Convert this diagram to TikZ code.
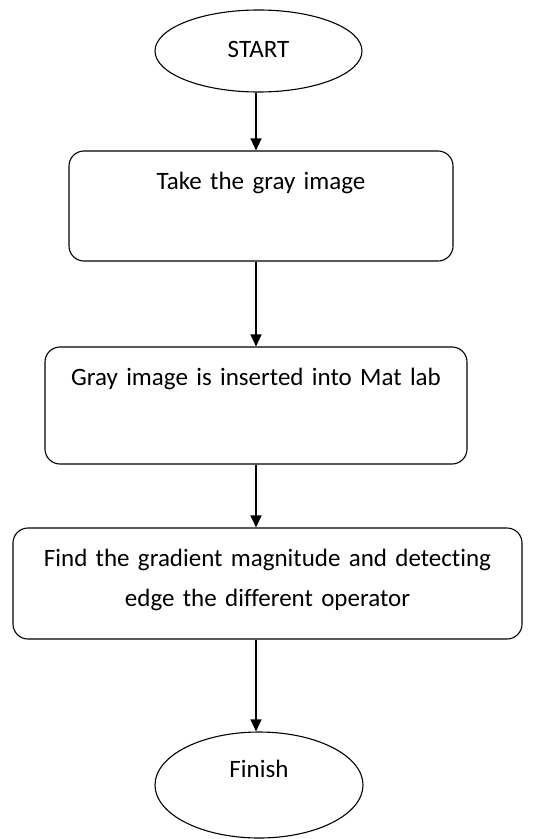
\documentclass[tikz,border=0pt]{standalone}
\usepackage{fontspec}
\setmainfont{Carlito}[Ligatures=NoCommon]
\usetikzlibrary{arrows.meta,shapes.geometric}

\begin{document}
\begin{tikzpicture}[x=1bp, y=-1bp, line width=1.1bp,
                    >={Triangle[length=12bp,width=11bp]},
                    every node/.style={font=\fontsize{25bp}{40bp}\selectfont, inner sep=0pt},
                    terminal/.style={draw, ellipse},
                    process/.style={draw, rounded corners=15bp, align=center, text height=38bp}]
   %\draw[help lines] (0,0) grid[step=50] (533,839);
   \useasboundingbox (0,0) rectangle (533,839);

   \coordinate (trunk) at (256,0);

   \node[terminal, minimum width=207bp, minimum height=82bp, text height=18bp, text depth=6bp] (start) at (258.5,51) {START};
   \node[process, text width=384bp, text depth=72bp] (take_gray_image) at (261,206) {Take the gray image};
   \node[process, text width=422bp, text depth=79bp] (gray_into_matlab) at (256,405.5) {Gray image is inserted into Mat lab};
   \node[process, text width=509bp, text depth=73bp] (find_gradient) at (267.5,583.5) {Find the gradient magnitude and detecting\\edge the different operator};
   \node[terminal, minimum width=208bp, minimum height=106bp, text height=4bp, text depth=20bp] (finish) at (259,785) {Finish};

   % Define transitions
   \path[->]
    (trunk |- start.south)            edge (trunk |- take_gray_image.north)
    (trunk |- take_gray_image.south)  edge (trunk |- gray_into_matlab.north)
    (trunk |- gray_into_matlab.south) edge (trunk |- find_gradient.north)
    (trunk |- find_gradient.south)    edge (trunk |- finish.north);

\end{tikzpicture}
\end{document}
